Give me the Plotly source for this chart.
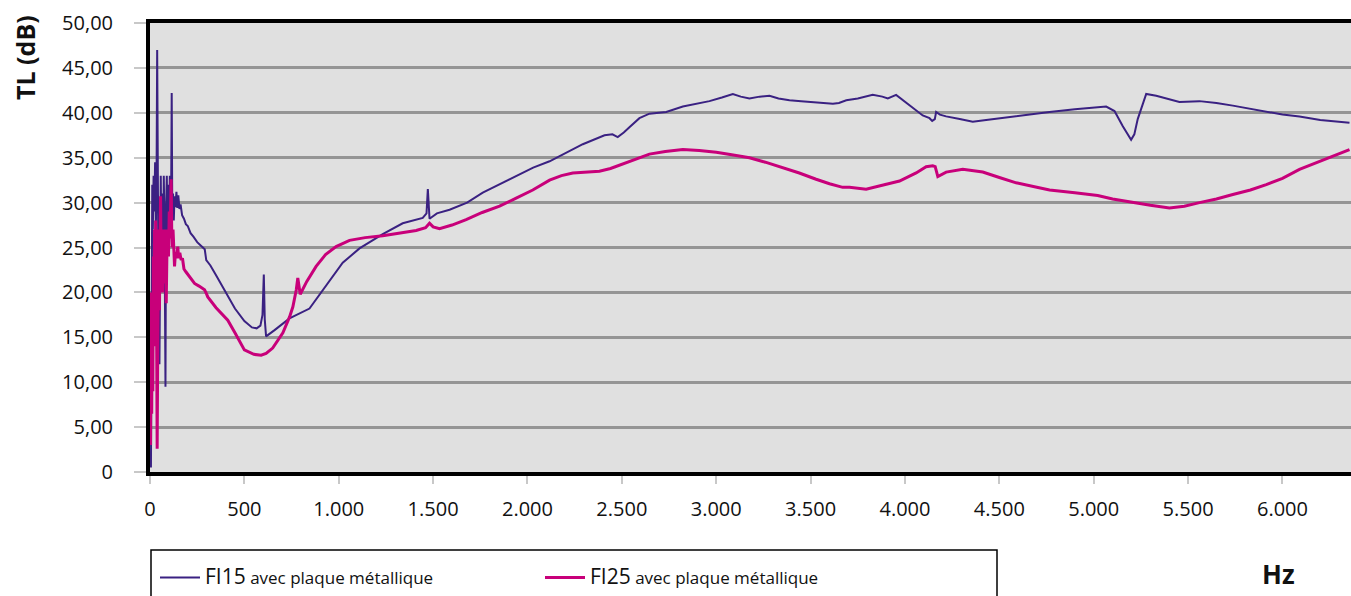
import plotly.graph_objects as go

# ---- data ----
fi15_hz = [5, 9, 12, 15, 19, 23, 27, 31, 35, 38, 41, 44, 47, 50, 53, 57, 61, 65, 69, 73, 77, 80, 82, 85, 89,
           93, 97, 101, 105, 109, 112, 115, 118, 122, 126, 130, 135, 140, 145, 150, 156, 162, 170, 180, 190,
           200, 215, 230, 250, 270, 290, 298, 320, 350, 400, 450, 500, 540, 565, 585, 596, 603, 608, 615, 660,
           739, 845, 933, 1021, 1110, 1233, 1339, 1445, 1465, 1472, 1481, 1520, 1587, 1680, 1763, 1850, 1940,
           2030, 2117, 2200, 2293, 2408, 2450, 2478, 2510, 2540, 2593, 2646, 2735, 2823, 2900, 2964, 3030,
           3088, 3130, 3176, 3230, 3282, 3330, 3388, 3450, 3512, 3570, 3618, 3650, 3689, 3750, 3829, 3880,
           3909, 3953, 3990, 4024, 4060, 4094, 4130, 4144, 4158, 4165, 4185, 4218, 4290, 4359, 4430, 4501,
           4571, 4600, 4680, 4766, 4900, 5021, 5066, 5110, 5154, 5198, 5215, 5233, 5255, 5278, 5331, 5400,
           5454, 5560, 5650, 5737, 5820, 5914, 6000, 6090, 6200, 6355]
fi15_db = [0.5, 18, 32, 27, 33, 29, 34.5, 27, 34, 47, 30, 25, 13, 12, 29, 33, 24, 31, 22, 33, 27, 21, 9.5, 29, 33,
           26, 32, 27, 33, 28, 31, 42.2, 29, 31, 28, 30.7, 29.5, 31.2, 29.4, 30.8, 29.3, 29.8, 28.6, 28.2, 27.6,
           27.4, 26.6, 26.2, 25.6, 25.2, 24.8, 23.6, 23.0, 21.9, 20.0, 18.2, 16.8, 16.1, 16.0, 16.3, 17.5, 22.0,
           17.0, 15.1, 15.8, 17.1, 18.2, 20.7, 23.3, 24.9, 26.5, 27.7, 28.3, 28.8, 31.5, 28.2, 28.8, 29.2, 30.0,
           31.1, 32.0, 32.9, 33.9, 34.6, 35.5, 36.5, 37.5, 37.6, 37.3, 37.8, 38.4, 39.4, 39.9, 40.1, 40.7, 41.0,
           41.3, 41.7, 42.1, 41.8, 41.6, 41.8, 41.9, 41.6, 41.4, 41.3, 41.2, 41.1, 41.0, 41.1, 41.4, 41.6, 42.0,
           41.8, 41.6, 42.0, 41.4, 40.8, 40.2, 39.7, 39.4, 39.1, 39.3, 40.1, 39.8, 39.6, 39.3, 39.0, 39.2, 39.4,
           39.6, 39.7, 39.9, 40.1, 40.4, 40.6, 40.7, 40.2, 38.5, 37.0, 37.6, 39.3, 40.8, 42.1, 41.9, 41.5, 41.2,
           41.3, 41.1, 40.8, 40.5, 40.1, 39.8, 39.6, 39.2, 38.9]

fi25_hz = [3, 6, 9, 12, 15, 18, 21, 24, 27, 30, 33, 36, 38, 41, 44, 47, 50, 53, 56, 59, 62, 66, 70, 74, 78, 82,
           86, 90, 94, 98, 102, 106, 109, 112, 115, 118, 122, 126, 130, 135, 140, 147, 152, 158, 165, 172, 180,
           190, 200, 220, 236, 260, 289, 300, 306, 350, 412, 450, 500, 550, 589, 615, 650, 704, 740, 757, 775,
           783, 790, 796, 830, 880, 930, 986, 1057, 1140, 1233, 1320, 1410, 1460, 1481, 1500, 1534, 1600, 1675,
           1760, 1852, 1940, 2028, 2117, 2180, 2240, 2310, 2381, 2440, 2505, 2570, 2646, 2730, 2823, 2910, 3000,
           3090, 3176, 3260, 3353, 3440, 3529, 3600, 3670, 3706, 3794, 3880, 3971, 4059, 4112, 4147, 4160, 4174,
           4218, 4306, 4412, 4500, 4589, 4680, 4766, 4900, 5021, 5100, 5207, 5300, 5401, 5480, 5560, 5650, 5737,
           5830, 5914, 6000, 6090, 6200, 6355]
fi25_db = [3, 20, 6.5, 19, 9, 24, 14, 27, 19, 28, 25, 8, 2.6, 14, 22, 27, 18, 26, 30.7, 22, 27, 20, 26, 21, 27, 24,
           18.8, 25, 27, 24, 29, 26, 31, 32.6, 27, 25, 27, 24, 22.9, 24.5, 23.8, 25.1, 23.8, 24.4, 23.6, 23.8, 22.6,
           22.3, 22.0, 21.5, 21.0, 20.7, 20.3, 19.8, 19.5, 18.3, 16.9, 15.5, 13.6, 13.1, 13.0, 13.2, 13.8, 15.5,
           17.3, 18.4, 20.3, 21.6, 20.4, 19.8, 21.2, 22.9, 24.2, 25.1, 25.8, 26.1, 26.3, 26.6, 26.9, 27.2, 27.7,
           27.3, 27.1, 27.5, 28.1, 28.9, 29.6, 30.5, 31.4, 32.5, 33.0, 33.3, 33.4, 33.5, 33.8, 34.3, 34.8, 35.4,
           35.7, 35.9, 35.8, 35.6, 35.3, 35.0, 34.5, 33.9, 33.3, 32.6, 32.1, 31.7, 31.7, 31.5, 31.9, 32.4, 33.3,
           34.0, 34.1, 34.0, 32.9, 33.4, 33.7, 33.4, 32.8, 32.2, 31.8, 31.4, 31.1, 30.8, 30.4, 30.0, 29.7, 29.4,
           29.6, 30.0, 30.4, 30.9, 31.4, 32.0, 32.7, 33.7, 34.6, 35.9]

x_tickvals = [0, 500, 1000, 1500, 2000, 2500, 3000, 3500, 4000, 4500, 5000, 5500, 6000]
x_ticktext = ["0", "500", "1.000", "1.500", "2.000", "2.500", "3.000", "3.500", "4.000", "4.500",
              "5.000", "5.500", "6.000"]
y_tickvals = [0, 5, 10, 15, 20, 25, 30, 35, 40, 45, 50]
y_ticktext = ["0", "5,00", "10,00", "15,00", "20,00", "25,00", "30,00", "35,00", "40,00", "45,00", "50,00"]

name15 = "<span style='font-size:21px'>FI15</span> avec plaque métallique"
name25 = "<span style='font-size:21px'>FI25</span> avec plaque métallique"

BLUE = "#3a2182"
MAGENTA = "#c8007a"

W, H = 1351, 596
ML, MR, MT, MB = 150, 0, 23, 124
pw = W - ML - MR
ph = H - MT - MB


def px_x(px):
    """page pixel -> paper x"""
    return (px - ML) / pw


def px_y(py):
    """page pixel -> paper y"""
    return (H - MB - py) / ph


fig = go.Figure()
fig.add_trace(go.Scatter(x=fi15_hz, y=fi15_db, mode="lines", name=name15,
                         line=dict(color=BLUE, width=2), legend="legend"))
fig.add_trace(go.Scatter(x=fi25_hz, y=fi25_db, mode="lines", name=name25,
                         line=dict(color=MAGENTA, width=3), legend="legend2"))

legend_common = dict(orientation="h", xanchor="left", yanchor="middle",
                     bgcolor="rgba(0,0,0,0)", borderwidth=0, itemwidth=40,
                     font=dict(family="Open Sans", size=17, color="#111111"))

fig.update_layout(
    width=W, height=H,
    margin=dict(l=ML, r=MR, t=MT, b=MB, pad=0),
    paper_bgcolor="white",
    plot_bgcolor="#e0e0e0",
    font=dict(family="Open Sans", size=20, color="#111111"),
    showlegend=True,
    legend=dict(x=px_x(155), y=px_y(578), **legend_common),
    legend2=dict(x=px_x(540), y=px_y(578), **legend_common),
    xaxis=dict(range=[0, 6363], tickvals=x_tickvals, ticktext=x_ticktext,
               showgrid=False, zeroline=False,
               showline=True, linecolor="black", linewidth=4, mirror=True,
               ticks="outside", ticklen=8, tickcolor="#c8c8c8", tickwidth=1.5,
               ticklabelstandoff=8,
               tickfont=dict(family="Open Sans", size=20, color="#111111")),
    yaxis=dict(range=[0, 50], tickvals=y_tickvals, ticktext=y_ticktext,
               showgrid=True, gridcolor="#959595", gridwidth=2.5, zeroline=False,
               showline=True, linecolor="black", linewidth=4,
               ticks="outside", ticklen=12, tickcolor="#c8c8c8", tickwidth=1.5,
               ticklabelstandoff=17,
               tickfont=dict(family="Open Sans", size=20, color="#111111")),
    shapes=[dict(type="rect", xref="paper", yref="paper",
                 x0=px_x(151), x1=px_x(997), y0=px_y(620), y1=px_y(550),
                 line=dict(color="black", width=1.5), fillcolor="rgba(0,0,0,0)", layer="above")],
    annotations=[
        dict(text="<b>TL (dB)</b>", xref="paper", yref="paper", x=px_x(25), y=px_y(58),
             textangle=-90, showarrow=False, xanchor="center", yanchor="middle",
             font=dict(family="Open Sans", size=25, color="#111111")),
        dict(text="<b>Hz</b>", xref="paper", yref="paper", x=px_x(1278), y=px_y(574),
             showarrow=False, xanchor="center", yanchor="middle",
             font=dict(family="Open Sans", size=26, color="#111111")),
    ],
)

fig.write_html(
    "out.html",
    config={"displayModeBar": False},
    post_script=(
        "document.documentElement.style.margin='0';"
        "document.body.style.margin='0';"
        "document.body.style.overflow='hidden';"
        "document.documentElement.style.overflow='hidden';"
    ),
)
